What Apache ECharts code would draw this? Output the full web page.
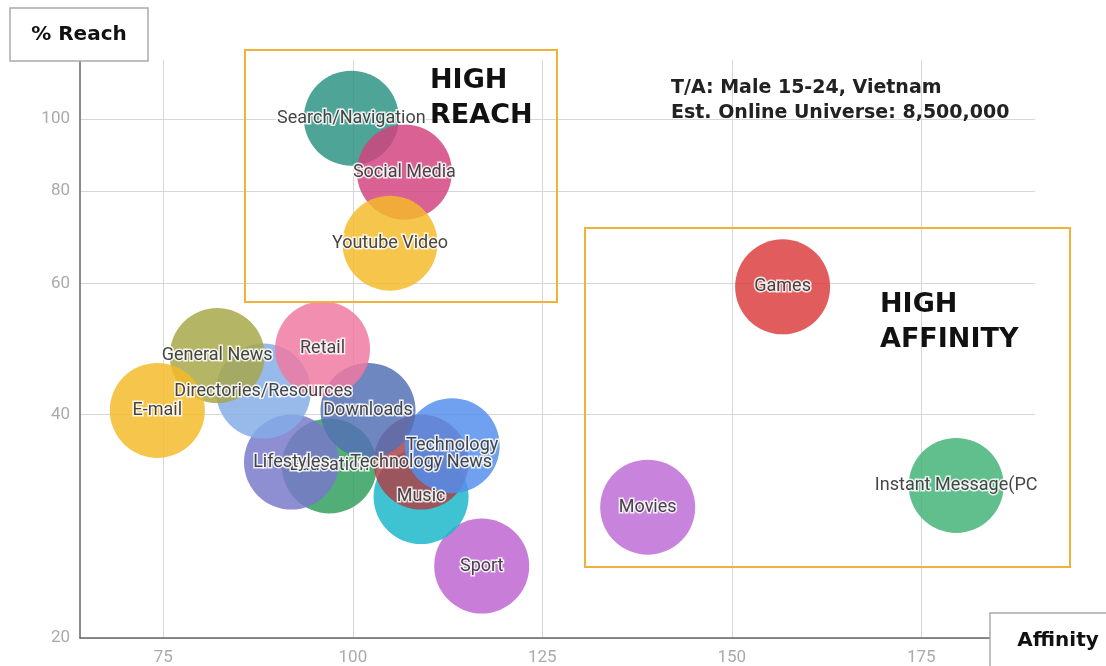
<!DOCTYPE html>
<html>
<head>
<meta charset="utf-8">
<script src="https://cdn.jsdelivr.net/npm/echarts@6/dist/echarts.min.js"></script>
<style>
html,body{margin:0;padding:0;background:#fff;}
#chart{width:1106px;height:666px;}
</style>
</head>
<body>
<div id="chart"></div>
<script>
// ---- data ----
const categories = ["Education","Search/Navigation","Social Media","Youtube Video","Games","Instant Message(PC","Movies","Sport","Music","Technology News","Technology","Lifestyles","Downloads","Directories/Resources","General News","Retail","E-mail"];
const affinity   = [96.9, 99.8, 106.8, 104.9, 156.7, 179.6, 138.9, 117.0, 109.0, 109.0, 113.1, 91.9, 102.0, 88.2, 82.1, 96.0, 74.2];
const reach      = [34.1, 100.2, 84.8, 68.0, 59.4, 32.1, 30.0, 25.0, 31.0, 34.5, 36.3, 34.5, 40.5, 43.0, 48.0, 49.0, 40.5];
const colors     = ['#2f9e5c','#2c9383','#d2437e','#f4ba28','#db3d3d','#43b378','#be6cd6','#be65d2','#1ab8ca','#ad4045','#548fed','#7878ca','#5370b4','#83ade7','#a7a749','#f078a1','#f4ba28'];
const xTicks = [75, 100, 125, 150, 175];
const yTicks = [20, 40, 60, 80, 100];

const chart = echarts.init(document.getElementById('chart'));
const data = categories.map((n, i) => ({
  name: n,
  value: [affinity[i], reach[i]],
  itemStyle: { color: colors[i] }
}));

chart.setOption({
  backgroundColor: '#fff',
  animation: false,
  grid: { left: 80, right: 71, top: 60, bottom: 28 },
  xAxis: {
    type: 'value', min: 64, max: 190,
    axisLine: { show: true, lineStyle: { color: '#666', width: 1.5 } },
    axisTick: { show: false, customValues: xTicks },
    axisLabel: { customValues: xTicks, color: '#aaa', fontSize: 17, fontFamily: 'Roboto', margin: 11 },
    splitLine: { show: true, lineStyle: { color: '#d6d6d6', width: 1 } }
  },
  yAxis: {
    type: 'log', logBase: 10, min: 20, max: 120,
    axisLine: { show: true, lineStyle: { color: '#666', width: 1.5 } },
    axisTick: { show: false, customValues: yTicks },
    axisLabel: { customValues: yTicks, color: '#aaa', fontSize: 17, fontFamily: 'Roboto', margin: 10 },
    splitLine: { show: true, lineStyle: { color: '#d6d6d6', width: 1 } }
  },
  series: [{
    type: 'scatter',
    symbolSize: 95,
    data: data,
    itemStyle: { opacity: 0.84 },
    label: {
      show: true, position: 'inside',
      formatter: p => p.name,
      color: '#222', fontSize: 18, fontFamily: 'Roboto',
      textBorderColor: '#fff', textBorderWidth: 3
    },
    labelLayout: { hideOverlap: false }
  }],
  graphic: [
    { type: 'rect', shape: { x: 245, y: 50, width: 312, height: 252 }, style: { fill: 'none', stroke: '#f0b23c', lineWidth: 2 }, z: 10 },
    { type: 'rect', shape: { x: 585, y: 228, width: 485, height: 339 }, style: { fill: 'none', stroke: '#f0b23c', lineWidth: 2 }, z: 10 },
    { type: 'text', left: 430, top: 63, style: { text: 'HIGH\nREACH', font: 'bold 27px "DejaVu Sans"', fill: '#111', lineHeight: 35 }, z: 11 },
    { type: 'text', left: 880, top: 287, style: { text: 'HIGH\nAFFINITY', font: 'bold 27px "DejaVu Sans"', fill: '#111', lineHeight: 35 }, z: 11 },
    { type: 'text', left: 671, top: 76, style: { text: 'T/A: Male 15-24, Vietnam\nEst. Online Universe: 8,500,000', font: 'bold 19px "DejaVu Sans"', fill: '#222', lineHeight: 25 }, z: 11 },
    { type: 'rect', shape: { x: 10, y: 8, width: 138, height: 53 }, style: { fill: '#fff', stroke: '#aaa', lineWidth: 1.5 }, z: 11 },
    { type: 'text', x: 79, y: 35, style: { text: '% Reach', font: 'bold 20px "DejaVu Sans"', fill: '#111', textAlign: 'center', textVerticalAlign: 'middle' }, z: 12 },
    { type: 'rect', shape: { x: 990, y: 613, width: 130, height: 60 }, style: { fill: '#fff', stroke: '#aaa', lineWidth: 1.5 }, z: 11 },
    { type: 'text', x: 1058, y: 641, style: { text: 'Affinity', font: 'bold 20px "DejaVu Sans"', fill: '#111', textAlign: 'center', textVerticalAlign: 'middle' }, z: 12 }
  ]
});
</script>
</body>
</html>
